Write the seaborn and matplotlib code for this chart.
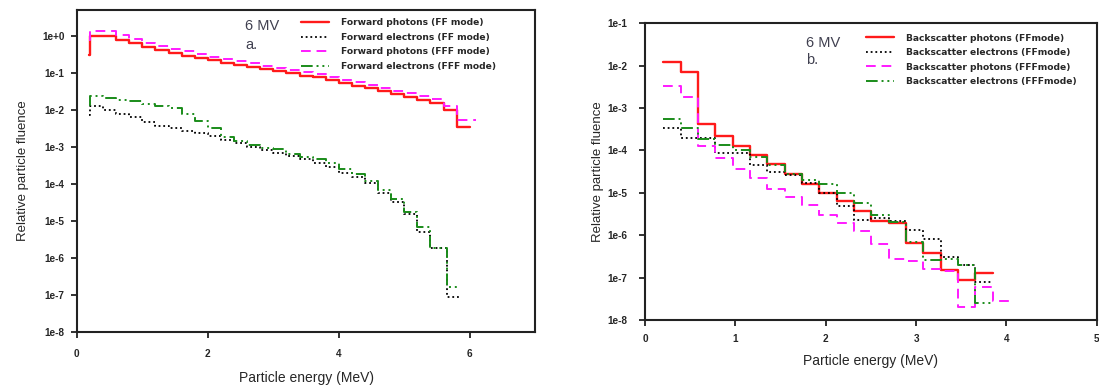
import numpy as np
import matplotlib
matplotlib.use("Agg")
import matplotlib.pyplot as plt
import seaborn as sns

# ---- panel a: forward fluence (values are log10 of relative fluence) ----
fwd_ph_energy = [0.18, 0.2, 0.4, 0.6, 0.8, 1.0, 1.2, 1.4, 1.6, 1.8, 2.0, 2.2, 2.4, 2.6, 2.8,
                 3.0, 3.2, 3.4, 3.6, 3.8, 4.0, 4.2, 4.4, 4.6, 4.8, 5.0, 5.2, 5.4, 5.6, 5.8]
fwd_ph_ff = [-0.52, 0.0, 0.0, -0.1, -0.2, -0.3, -0.38, -0.45, -0.53, -0.6, -0.66, -0.72, -0.78,
             -0.84, -0.9, -0.96, -1.01, -1.07, -1.12, -1.2, -1.28, -1.35, -1.42, -1.5, -1.58,
             -1.65, -1.72, -1.8, -2.0, -2.46]
fwd_ph_ff_end = 6.0
fwd_ph_fff = [-0.1, 0.14, 0.12, 0.02, -0.08, -0.18, -0.27, -0.35, -0.42, -0.5, -0.56, -0.62, -0.68,
              -0.74, -0.8, -0.86, -0.91, -0.97, -1.02, -1.1, -1.18, -1.25, -1.32, -1.4, -1.48,
              -1.55, -1.62, -1.7, -1.9, -2.27]
fwd_ph_fff_end = 6.1

fwd_el_energy = [0.18, 0.2, 0.4, 0.6, 0.8, 1.0, 1.2, 1.4, 1.6, 1.8, 2.0, 2.2, 2.4, 2.6, 2.8,
                 3.0, 3.2, 3.4, 3.6, 3.8, 4.0, 4.2, 4.4, 4.6, 4.8, 5.0, 5.2, 5.4, 5.65]
fwd_el_ff = [-2.14, -1.9, -2.0, -2.1, -2.2, -2.32, -2.42, -2.5, -2.57, -2.63, -2.7, -2.8, -2.9,
             -3.0, -3.07, -3.15, -3.25, -3.33, -3.43, -3.54, -3.7, -3.8, -3.97, -4.24, -4.5,
             -4.81, -5.3, -5.73, -7.05]
fwd_el_fff = [-1.86, -1.62, -1.68, -1.72, -1.76, -1.84, -1.88, -1.95, -2.1, -2.3, -2.5, -2.73,
              -2.85, -2.95, -3.02, -3.06, -3.2, -3.28, -3.32, -3.43, -3.6, -3.72, -3.92, -4.16,
              -4.4, -4.76, -5.16, -5.73, -6.78]
fwd_el_end = 5.85

# ---- panel b: backscatter fluence ----
bs_energy = [0.2, 0.392, 0.584, 0.776, 0.968, 1.16, 1.352, 1.544, 1.736, 1.928, 2.12,
             2.312, 2.504, 2.696, 2.888, 3.08, 3.272, 3.464, 3.656, 3.848, 4.04]
bs_ph_ff = [-1.92, -2.15, -3.38, -3.67, -3.9, -4.11, -4.33, -4.56, -4.8, -5.0, -5.19, -5.43,
            -5.66, -5.72, -6.18, -6.42, -6.83, -7.05, -6.89]
bs_el_ff = [-3.48, -3.7, -3.7, -4.07, -4.07, -4.35, -4.5, -4.58, -4.77, -5.0, -5.32, -5.63,
            -5.6, -5.66, -5.87, -6.08, -6.51, -6.71, -7.1]
bs_ph_fff = [-2.49, -2.74, -3.9, -4.19, -4.44, -4.66, -4.92, -5.1, -5.29, -5.53, -5.71, -5.9,
             -6.21, -6.57, -6.61, -6.8, -6.84, -7.69, -7.22, -7.55]
bs_el_fff = [-3.25, -3.48, -3.72, -3.88, -4.0, -4.15, -4.35, -4.56, -4.7, -4.8, -5.0, -5.24,
             -5.53, -5.69, -6.16, -6.59, -6.55, -6.71, -7.6]

ytick_vals_a = [1e0, 1e-1, 1e-2, 1e-3, 1e-4, 1e-5, 1e-6, 1e-7, 1e-8]
ytick_labels_a = ["1e+0", "1e-1", "1e-2", "1e-3", "1e-4", "1e-5", "1e-6", "1e-7", "1e-8"]
ytick_vals_b = [1e-1, 1e-2, 1e-3, 1e-4, 1e-5, 1e-6, 1e-7, 1e-8]
ytick_labels_b = ["1e-1", "1e-2", "1e-3", "1e-4", "1e-5", "1e-6", "1e-7", "1e-8"]

labels_a = ["Forward photons (FF mode)", "Forward electrons (FF mode)",
            "Forward photons (FFF mode)", "Forward electrons (FFF mode)"]
labels_b = ["Backscatter photons (FFmode)", "Backscatter electrons (FFmode)",
            "Backscatter photons (FFFmode)", "Backscatter electrons (FFFmode)"]

sns.set_style("ticks")
plt.rcParams["font.family"] = ["Liberation Sans", "DejaVu Sans"]

STYLES = [
    dict(color="#ff1a1a", linestyle="-", linewidth=1.7),
    dict(color="black", linestyle=(0, (1, 1.6)), linewidth=1.3),
    dict(color="#ff1aff", linestyle=(0, (5, 3)), linewidth=1.4),
    dict(color="#1a8c1a", linestyle=(0, (6, 2, 1, 2, 1, 2)), linewidth=1.4),
]
LEGEND_FONT = {"family": "DejaVu Sans", "size": 6.6, "weight": "bold"}


def step_series(ax, energy, logvals, end, label, style):
    x = list(energy[:len(logvals)]) + [end]
    y = np.power(10.0, list(logvals) + [logvals[-1]])
    sns.lineplot(x=x, y=y, ax=ax, drawstyle="steps-post", label=label, **style)


def style_axes(ax, xticks, yvals, ylabels, xlim, ylim, ypad, xpad, xlabpad, ylabpad):
    ax.set_yscale("log")
    ax.set_xlim(*xlim)
    ax.set_ylim(*ylim)
    ax.set_xticks(xticks)
    ax.set_xticklabels([str(t) for t in xticks])
    ax.set_yticks(yvals)
    ax.set_yticklabels(ylabels)
    ax.minorticks_off()
    ax.tick_params(direction="out", length=4, width=1.3, color="#222222", labelsize=7.2)
    ax.tick_params(axis="y", pad=ypad)
    ax.tick_params(axis="x", pad=xpad)
    for lab in ax.get_xticklabels() + ax.get_yticklabels():
        lab.set_fontweight("bold")
    for sp in ax.spines.values():
        sp.set_visible(True)
        sp.set_linewidth(1.5)
        sp.set_color("#222222")
    ax.set_xlabel("Particle energy (MeV)", fontsize=10, labelpad=xlabpad)
    ax.set_ylabel("Relative particle fluence", fontsize=9.5, labelpad=ylabpad)


fig = plt.figure(figsize=(10.99, 3.87), dpi=100)
ax1 = fig.add_axes([0.070, 0.142, 0.417, 0.832])
ax2 = fig.add_axes([0.587, 0.173, 0.411, 0.767])

# panel a
step_series(ax1, fwd_ph_energy, fwd_ph_ff, fwd_ph_ff_end, labels_a[0], STYLES[0])
step_series(ax1, fwd_el_energy, fwd_el_ff, fwd_el_end, labels_a[1], STYLES[1])
step_series(ax1, fwd_ph_energy, fwd_ph_fff, fwd_ph_fff_end, labels_a[2], STYLES[2])
step_series(ax1, fwd_el_energy, fwd_el_fff, fwd_el_end, labels_a[3], STYLES[3])
style_axes(ax1, [0, 2, 4, 6], ytick_vals_a, ytick_labels_a, (0, 7), (1e-8, 5),
           ypad=5, xpad=8, xlabpad=9, ylabpad=9)
ax1.legend(loc="upper left", bbox_to_anchor=(0.49, 0.975), frameon=False,
           prop=LEGEND_FONT, handlelength=3.0, handletextpad=1.3,
           labelspacing=0.62, borderaxespad=0, borderpad=0)
ax1.text(0.367, 0.950, "6 MV", transform=ax1.transAxes, fontsize=10.5, color="#404050", va="center")
ax1.text(0.367, 0.891, "a.", transform=ax1.transAxes, fontsize=10.5, color="#404050", va="center")

# panel b
step_series(ax2, bs_energy, bs_ph_ff, bs_energy[len(bs_ph_ff)], labels_b[0], STYLES[0])
step_series(ax2, bs_energy, bs_el_ff, bs_energy[len(bs_el_ff)], labels_b[1], STYLES[1])
step_series(ax2, bs_energy, bs_ph_fff, bs_energy[len(bs_ph_fff)], labels_b[2], STYLES[2])
step_series(ax2, bs_energy, bs_el_fff, bs_energy[len(bs_el_fff)], labels_b[3], STYLES[3])
style_axes(ax2, [0, 1, 2, 3, 4, 5], ytick_vals_b, ytick_labels_b, (0, 5), (1e-8, 1e-1),
           ypad=9, xpad=6, xlabpad=7, ylabpad=2)
ax2.legend(loc="upper left", bbox_to_anchor=(0.49, 0.965), frameon=False,
           prop=LEGEND_FONT, handlelength=3.0, handletextpad=1.3,
           labelspacing=0.6, borderaxespad=0, borderpad=0)
ax2.text(0.356, 0.933, "6 MV", transform=ax2.transAxes, fontsize=10.5, color="#404050", va="center")
ax2.text(0.356, 0.875, "b.", transform=ax2.transAxes, fontsize=10.5, color="#404050", va="center")

fig.savefig("out.png", dpi=100)
